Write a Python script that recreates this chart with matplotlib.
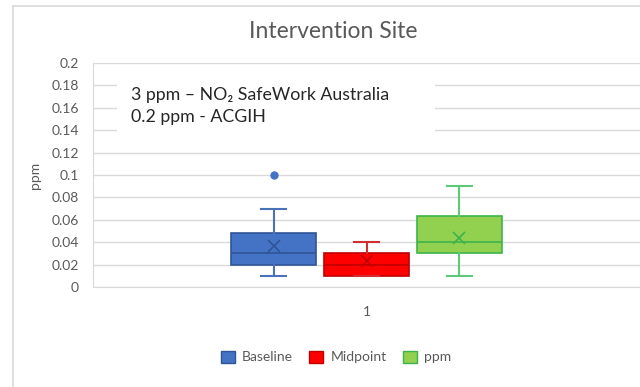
import matplotlib
matplotlib.use('Agg')
import matplotlib.pyplot as plt
from matplotlib.lines import Line2D
from matplotlib.patches import Patch, Rectangle

# Box statistics (ppm)
series = ['Baseline', 'Midpoint', 'ppm']
q1 = [0.020, 0.010, 0.030]
med = [0.030, 0.020, 0.040]
q3 = [0.048, 0.030, 0.063]
whislo = [0.010, 0.010, 0.010]
whishi = [0.070, 0.040, 0.090]
means = [0.037, 0.023, 0.044]
fliers = [[0.10], [], []]
category = '1'

face_colors = ['#4472C4', '#FF0000', '#92D050']
edge_colors = ['#2F5597', '#C00000', '#3CB44B']
line_colors = ['#4A72B8', '#D03030', '#5CC87A']

plt.rcParams['font.family'] = ['Lato', 'DejaVu Sans']

fig = plt.figure(figsize=(6.4, 3.87), dpi=100)
ax = fig.add_axes([93 / 640, 100 / 387, 547 / 640, 224 / 387])

offsets = [-0.34, 0.0, 0.34]
for i, name in enumerate(series):
    stats = [dict(q1=q1[i], med=med[i], q3=q3[i], whislo=whislo[i],
                  whishi=whishi[i], mean=means[i], fliers=fliers[i])]
    ax.bxp(stats, positions=[1 + offsets[i]], widths=0.31, patch_artist=True,
           showmeans=True, showcaps=True,
           boxprops=dict(facecolor=face_colors[i], edgecolor=edge_colors[i], linewidth=1.2),
           medianprops=dict(color=edge_colors[i], linewidth=1.2),
           whiskerprops=dict(color=line_colors[i], linewidth=1.5),
           capprops=dict(color=line_colors[i], linewidth=1.5),
           capwidths=0.09,
           meanprops=dict(marker='x', markeredgecolor=edge_colors[i], markersize=8, markeredgewidth=1.2),
           flierprops=dict(marker='o', markerfacecolor=face_colors[i], markeredgecolor=face_colors[i], markersize=5))

ax.set_xlim(0, 2)
ax.set_ylim(0, 0.2)
ax.set_yticks([i * 0.02 for i in range(11)])
ax.set_yticklabels(['{:g}'.format(round(i * 0.02, 2)) for i in range(11)])
ax.set_xticks([1])
ax.set_xticklabels([category])
ax.tick_params(axis='y', length=0, pad=10, labelsize=10, labelcolor='#595959')
ax.tick_params(axis='x', length=0, pad=14, labelsize=10, labelcolor='#595959')
ax.yaxis.grid(True, color='#D9D9D9', linewidth=1)
ax.set_axisbelow(True)
for s in ['top', 'right']:
    ax.spines[s].set_visible(False)
for s in ['left', 'bottom']:
    ax.spines[s].set_color('#D9D9D9')
ax.set_ylabel('ppm', fontsize=10, color='#595959', labelpad=8)

fig.text(333 / 640, 1 - 32 / 387, 'Intervention Site', ha='center', va='center',
         fontsize=16.5, color='#595959')

# note box over the grid (white rectangle hides the gridlines behind it)
fig.add_artist(Rectangle((117 / 640, 1 - 142 / 387), (435 - 117) / 640, (142 - 70) / 387,
                         transform=fig.transFigure, facecolor='white', edgecolor='none', zorder=3))
fig.text(131 / 640, 1 - 106 / 387, '3 ppm \u2013 NO\u2082 SafeWork Australia\n0.2 ppm - ACGIH',
         fontsize=12.8, color='#262626', va='center', ha='left', linespacing=1.45, zorder=4)

handles = [Patch(facecolor=face_colors[i], edgecolor=edge_colors[i], label=series[i]) for i in range(3)]
fig.legend(handles=handles, loc='center', bbox_to_anchor=(336 / 640, 1 - 357 / 387), ncol=3,
           frameon=False, fontsize=10, labelcolor='#595959', handlelength=1.0, handleheight=1.0,
           handletextpad=0.5, columnspacing=1.2)

# outer chart frame
fig.add_artist(Line2D([13 / 640, 13 / 640], [0, 1 - 6 / 387], color='#D9D9D9', linewidth=1.2,
                      transform=fig.transFigure))
fig.add_artist(Line2D([13 / 640, 1], [1 - 6 / 387, 1 - 6 / 387], color='#D9D9D9', linewidth=1.2,
                      transform=fig.transFigure))

fig.savefig('out.png', dpi=100)
